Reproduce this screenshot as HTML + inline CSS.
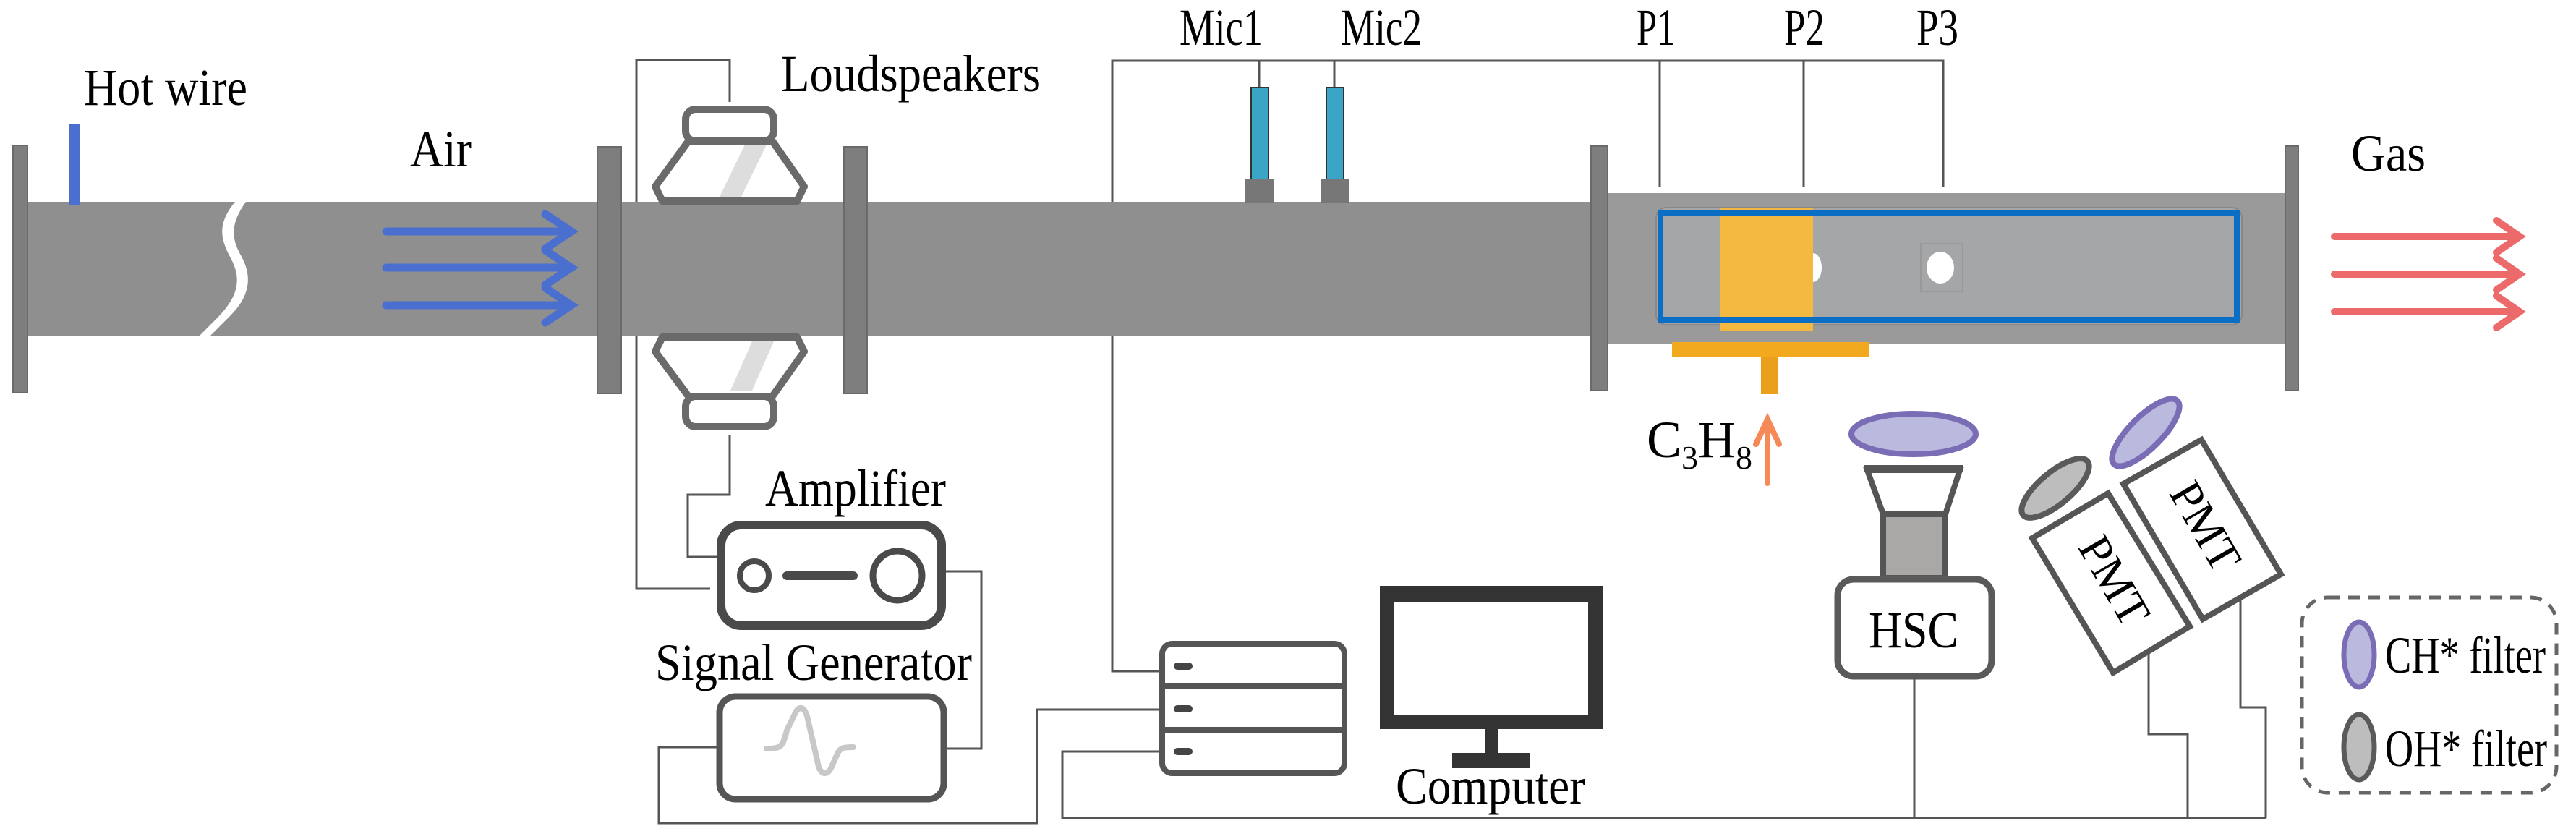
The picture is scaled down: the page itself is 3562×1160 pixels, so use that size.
<!DOCTYPE html>
<html><head><meta charset="utf-8"><style>
html,body{margin:0;padding:0;background:#fff;}
svg{display:block;}
text{font-family:"Liberation Serif",serif;fill:#000;}
</style></head><body>
<svg width="3562" height="1160" viewBox="0 0 3562 1160" xmlns="http://www.w3.org/2000/svg">
<!-- wires -->
<g fill="none" stroke="#555" stroke-width="3">
<polyline points="982,814 880,814 880,83 1009,83 1009,141"/>
<polyline points="1009,601 1009,684 951,684 951,770 991,770"/>
<polyline points="1308,790 1357,790 1357,1035 1308,1035"/>
<polyline points="991,1033 911,1033 911,1138 1434,1138 1434,981 1604,981"/>
<polyline points="1604,928 1538,928 1538,84 2687,84 2687,259"/>
<line x1="1741" y1="84" x2="1741" y2="121"/>
<line x1="1845" y1="84" x2="1845" y2="121"/>
<line x1="2295" y1="84" x2="2295" y2="259"/>
<line x1="2494" y1="84" x2="2494" y2="259"/>
<polyline points="1604,1039 1469,1039 1469,1131 3133,1131"/>
<line x1="2647" y1="937" x2="2647" y2="1131"/>
<polyline points="2971,903 2971,1015 3025,1015 3025,1131"/>
<polyline points="3098,828 3098,978 3133,978 3133,1131"/>
</g>
<!-- pipe -->
<rect x="38" y="279" width="788" height="186" fill="#8f8f8f"/>
<rect x="859" y="279" width="1345" height="186" fill="#8f8f8f"/>
<path d="M325,279 C300,310 305,330 318,355 C335,385 330,410 300,440 L275,465 L290,465 L318,437 C345,410 350,383 333,353 C320,330 318,310 340,279 Z" fill="#fff"/>
<!-- flanges -->
<g fill="#7e7e7e" stroke="#6a6a6a" stroke-width="2">
<rect x="18" y="201" width="20" height="342"/>
<rect x="826" y="203" width="33" height="341"/>
<rect x="1167" y="203" width="32" height="341"/>
<rect x="2200" y="202" width="23" height="338"/>
<rect x="3160" y="202" width="18" height="338"/>
</g>
<!-- hot wire -->
<rect x="96" y="171" width="15" height="112" fill="#4a6fcf"/>
<!-- air arrows -->
<g stroke="#4a6fcf" stroke-width="11" fill="none" stroke-linecap="round">
<line x1="534" y1="320" x2="790" y2="320"/><polyline points="754,296 790,320 754,344"/>
<line x1="534" y1="370" x2="790" y2="370"/><polyline points="754,346 790,370 754,394"/>
<line x1="534" y1="422" x2="790" y2="422"/><polyline points="754,398 790,422 754,446"/>
</g>
<!-- loudspeakers -->
<g stroke="#6a6a6a" stroke-width="10" fill="#fff" stroke-linejoin="round">
<rect x="948" y="151" width="122" height="44" rx="14"/>
<polygon points="952,195 1068,195 1112,258 1102,278 916,278 906,258"/>
<polygon points="916,466 1102,466 1112,486 1068,548 952,548 906,486"/>
<rect x="948" y="548" width="122" height="42" rx="14"/>
</g>
<polygon points="1030,200 1060,200 1025,272 995,272" fill="#ddd"/>
<polygon points="1040,472 1070,472 1040,540 1010,540" fill="#ddd"/>
<!-- mics -->
<rect x="1730" y="121" width="24" height="127" fill="#3aa5c4" stroke="#333" stroke-width="2"/>
<rect x="1834" y="121" width="24" height="127" fill="#3aa5c4" stroke="#333" stroke-width="2"/>
<rect x="1722" y="248" width="40" height="33" fill="#777"/>
<rect x="1826" y="248" width="40" height="33" fill="#777"/>
<!-- combustor -->
<rect x="2223" y="267" width="937" height="208" fill="#9a9a9a"/>
<rect x="2290" y="287" width="810" height="162" rx="14" fill="#a5a6a8" stroke="#888" stroke-width="2"/>
<rect x="2379" y="287" width="128" height="170" fill="#f8b93a" opacity="0.95"/>
<rect x="2312" y="473" width="272" height="20" fill="#f2a91e"/>
<rect x="2435" y="493" width="23" height="52" fill="#eaa01a"/>
<rect x="2656" y="337" width="58" height="66" fill="none" stroke="#999" stroke-width="2"/>
<ellipse cx="2683" cy="370" rx="19" ry="22" fill="#fff"/>
<path d="M2507,350 a12,20 0 0 1 0,40 z" fill="#fff"/>
<rect x="2296" y="295" width="797" height="147" fill="none" stroke="#0a6fc4" stroke-width="8"/>
<!-- gas arrows -->
<g stroke="#ec6a6a" stroke-width="10" fill="none" stroke-linecap="round">
<line x1="3228" y1="327" x2="3484" y2="327"/><polyline points="3452,305 3484,327 3452,349"/>
<line x1="3228" y1="379" x2="3484" y2="379"/><polyline points="3452,357 3484,379 3452,401"/>
<line x1="3228" y1="431" x2="3484" y2="431"/><polyline points="3452,409 3484,431 3452,453"/>
</g>
<!-- C3H8 arrow -->
<g stroke="#f58a58" stroke-width="8" fill="none" stroke-linecap="round">
<line x1="2444" y1="668" x2="2444" y2="585"/><polyline points="2428,614 2444,580 2460,614"/>
</g>
<!-- amplifier -->
<rect x="997" y="726" width="305" height="139" rx="28" fill="#fff" stroke="#4a4a4a" stroke-width="12"/>
<circle cx="1043" cy="796" r="20" fill="none" stroke="#4a4a4a" stroke-width="8"/>
<line x1="1088" y1="796" x2="1180" y2="796" stroke="#4a4a4a" stroke-width="12" stroke-linecap="round"/>
<circle cx="1241" cy="796" r="34" fill="none" stroke="#4a4a4a" stroke-width="9"/>
<!-- signal generator -->
<rect x="995" y="963" width="310" height="142" rx="22" fill="#fff" stroke="#555" stroke-width="9"/>
<path d="M1060,1035 C1080,1035 1082,1033 1088,1010 L1100,985 C1106,975 1112,978 1116,990 L1132,1060 C1136,1072 1145,1072 1150,1060 L1158,1042 C1162,1034 1165,1033 1180,1033" fill="none" stroke="#c8c8c8" stroke-width="8" stroke-linecap="round"/>
<!-- server -->
<g fill="#fff" stroke="#555" stroke-width="8">
<rect x="1607" y="890" width="252" height="179" rx="14"/>
<line x1="1607" y1="949" x2="1859" y2="949"/>
<line x1="1607" y1="1009" x2="1859" y2="1009"/>
</g>
<g fill="#444"><rect x="1623" y="916" width="26" height="10" rx="5"/><rect x="1623" y="975" width="26" height="10" rx="5"/><rect x="1623" y="1034" width="26" height="10" rx="5"/></g>
<!-- computer -->
<rect x="1918" y="820" width="288" height="178" fill="#fff" stroke="#333" stroke-width="20"/>
<rect x="1908" y="810" width="308" height="22" fill="#333"/>
<rect x="2053" y="1008" width="18" height="35" fill="#333"/>
<rect x="2008" y="1041" width="108" height="21" fill="#333"/>
<!-- HSC -->
<ellipse cx="2646" cy="600" rx="86" ry="28" fill="#bab9de" stroke="#7a6cb5" stroke-width="8"/>
<polygon points="2582,650 2710,650 2690,711 2604,711" fill="#fff" stroke="#555" stroke-width="8"/>
<line x1="2578" y1="648" x2="2714" y2="648" stroke="#555" stroke-width="10"/>
<rect x="2604" y="711" width="86" height="88" fill="#aaa7a7" stroke="#555" stroke-width="8"/>
<rect x="2541" y="801" width="213" height="134" rx="22" fill="#fff" stroke="#5a5a5a" stroke-width="9"/>
<!-- PMTs -->
<g fill="#fff" stroke="#555" stroke-width="8" stroke-linejoin="miter">
<polygon points="2810,744 2915,682 3028,866 2922,930"/>
<polygon points="2936,669 3044,608 3154,794 3046,856"/>
</g>
<ellipse cx="2842" cy="675" rx="58" ry="22" transform="rotate(-40 2842 675)" fill="#bdbdbd" stroke="#5a5a5a" stroke-width="8"/>
<ellipse cx="2967" cy="598" rx="62" ry="22" transform="rotate(-45 2967 598)" fill="#bab9de" stroke="#7a6cb5" stroke-width="8"/>
<!-- legend -->
<rect x="3183" y="826" width="352" height="270" rx="36" fill="none" stroke="#666" stroke-width="5" stroke-dasharray="16,12"/>
<ellipse cx="3262" cy="905" rx="21" ry="45" fill="#bab9de" stroke="#7a6cb5" stroke-width="7"/>
<ellipse cx="3262" cy="1033" rx="21" ry="45" fill="#bdbdbd" stroke="#5a5a5a" stroke-width="7"/>
<!-- text -->
<g font-size="72">
<text x="116" y="145" textLength="226" lengthAdjust="spacingAndGlyphs">Hot wire</text>
<text x="567" y="230" textLength="85" lengthAdjust="spacingAndGlyphs">Air</text>
<text x="1080" y="126" textLength="359" lengthAdjust="spacingAndGlyphs">Loudspeakers</text>
<text x="1058" y="699" textLength="250" lengthAdjust="spacingAndGlyphs">Amplifier</text>
<text x="906" y="940" textLength="438" lengthAdjust="spacingAndGlyphs">Signal Generator</text>
<text x="1631" y="62" textLength="115" lengthAdjust="spacingAndGlyphs">Mic1</text>
<text x="1854" y="62" textLength="112" lengthAdjust="spacingAndGlyphs">Mic2</text>
<text x="2263" y="62" textLength="53" lengthAdjust="spacingAndGlyphs">P1</text>
<text x="2467" y="62" textLength="56" lengthAdjust="spacingAndGlyphs">P2</text>
<text x="2650" y="62" textLength="58" lengthAdjust="spacingAndGlyphs">P3</text>
<text x="3251" y="236" textLength="103" lengthAdjust="spacingAndGlyphs">Gas</text>
<text x="1930" y="1111" textLength="262" lengthAdjust="spacingAndGlyphs">Computer</text>
<text x="2584" y="895" textLength="124" lengthAdjust="spacingAndGlyphs">HSC</text>
<text x="3298" y="930" textLength="222" lengthAdjust="spacingAndGlyphs">CH* filter</text>
<text x="3298" y="1059" textLength="224" lengthAdjust="spacingAndGlyphs">OH* filter</text>
<text x="2277" y="632">C<tspan font-size="46" dy="16">3</tspan><tspan dy="-16">H</tspan><tspan font-size="46" dy="16">8</tspan></text>
<text x="0" y="0" transform="translate(2918,806) rotate(60)" text-anchor="middle" dominant-baseline="middle" font-size="64">PMT</text>
<text x="0" y="0" transform="translate(3044,731) rotate(60)" text-anchor="middle" dominant-baseline="middle" font-size="64">PMT</text>
</g>
</svg>
</body></html>
